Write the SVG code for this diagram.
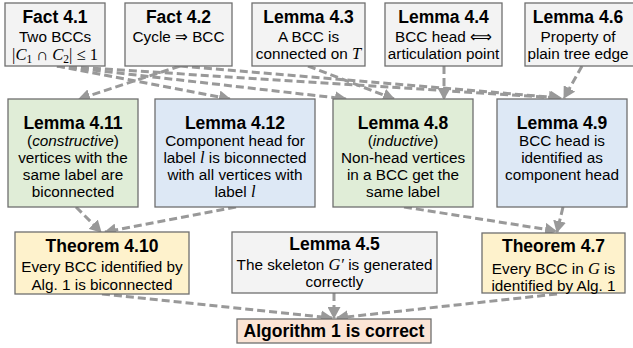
<svg xmlns="http://www.w3.org/2000/svg" width="633" height="348" viewBox="0 0 633 348">
<style>
.box{stroke:#6f6f6f;stroke-width:1.3}
.g{fill:#f3f3f3}
.gr{fill:#e0edd7}
.bl{fill:#dde8f5}
.ye{fill:#fef2cc}
.pe{fill:#fbe4d5}
text{font-family:"Liberation Sans",Arial,"DejaVu Sans",sans-serif;fill:#000;text-anchor:middle}
.t{font-weight:bold;font-size:17.5px}
.b{font-size:15.3px}
.m{font-family:"Liberation Serif","DejaVu Serif",serif;font-style:italic;font-size:16.5px}
.mu{font-family:"Liberation Serif","DejaVu Serif",serif;font-size:16.5px}
.sub{font-family:"Liberation Serif","DejaVu Serif",serif;font-size:11.5px}
.e{fill:none;stroke:#999;stroke-width:3;stroke-dasharray:8 4;marker-end:url(#ah)}
</style>
<defs>
<marker id="ah" markerUnits="userSpaceOnUse" markerWidth="13" markerHeight="13" refX="11" refY="6.5" orient="auto">
<path d="M0,0 L12,6.5 L0,13 z" fill="#999"/>
</marker>
</defs>

<g id="edges">
<path class="e" d="M57,66 L230,99"/>
<path class="e" d="M57,66 L346,99"/>
<path class="e" d="M57,66 L560,98"/>
<path class="e" d="M180,66 L79,99"/>
<path class="e" d="M180,66 L561,98"/>
<path class="e" d="M308,66 L394,99"/>
<path class="e" d="M444,66 L444,99"/>
<path class="e" d="M582,66 L564,98"/>
<path class="e" d="M76,207 L101,232"/>
<path class="e" d="M236,207 L105,232"/>
<path class="e" d="M404,207 L556,231"/>
<path class="e" d="M563,207 L557,232"/>
<path class="e" d="M102,294 L332,318"/>
<path class="e" d="M334,293 L334,318"/>
<path class="e" d="M557,294 L337,318"/>
</g>

<g id="fact41">
<rect class="box g" x="5" y="3" width="100" height="63"/>
<text class="t" x="55" y="22.5">Fact 4.1</text>
<text class="b" x="55" y="41.5">Two BCCs</text>
<text x="55" y="59.5"><tspan class="mu">|</tspan><tspan class="m">C</tspan><tspan class="sub" dy="3">1</tspan><tspan class="mu" dy="-3"> ∩ </tspan><tspan class="m">C</tspan><tspan class="sub" dy="3">2</tspan><tspan class="mu" dy="-3">| ≤ 1</tspan></text>
</g>

<g id="fact42">
<rect class="box g" x="125" y="3" width="107" height="63"/>
<text class="t" x="178.5" y="22.5">Fact 4.2</text>
<text class="b" x="178.5" y="41.5">Cycle ⇒ BCC</text>
</g>

<g id="lemma43">
<rect class="box g" x="252" y="3" width="113" height="63"/>
<text class="t" x="308.5" y="22.5">Lemma 4.3</text>
<text class="b" x="308.5" y="41.5">A BCC is</text>
<text class="b" x="308.5" y="58.5">connected on <tspan class="m">T</tspan></text>
</g>

<g id="lemma44">
<rect class="box g" x="385" y="3" width="117" height="63"/>
<text class="t" x="443.5" y="22.5">Lemma 4.4</text>
<text class="b" x="443.5" y="41.5">BCC head <tspan font-family="DejaVu Sans">⟺</tspan></text>
<text class="b" x="443.5" y="58.5">articulation point</text>
</g>

<g id="lemma46">
<rect class="box g" x="525" y="3" width="115" height="63"/>
<text class="t" x="578" y="22.5">Lemma 4.6</text>
<text class="b" x="578" y="41.5">Property of</text>
<text class="b" x="578" y="58.5">plain tree edge</text>
</g>

<g id="lemma411">
<rect class="box gr" x="8" y="99" width="130" height="108"/>
<text class="t" x="73" y="129">Lemma 4.11</text>
<text class="b" x="73" y="145.5">(<tspan font-style="italic">constructive</tspan>)</text>
<text class="b" x="73" y="162.5">vertices with the</text>
<text class="b" x="73" y="179.5">same label are</text>
<text class="b" x="73" y="197">biconnected</text>
</g>

<g id="lemma412">
<rect class="box bl" x="155" y="99" width="160" height="108"/>
<text class="t" x="235" y="129">Lemma 4.12</text>
<text class="b" x="235" y="145.5">Component head for</text>
<text class="b" x="235" y="162.5">label <tspan class="m">l</tspan> is biconnected</text>
<text class="b" x="235" y="179.5">with all vertices with</text>
<text class="b" x="235" y="197">label <tspan class="m">l</tspan></text>
</g>

<g id="lemma48">
<rect class="box gr" x="333" y="99" width="140" height="108"/>
<text class="t" x="403" y="129">Lemma 4.8</text>
<text class="b" x="403" y="145.5">(<tspan font-style="italic">inductive</tspan>)</text>
<text class="b" x="403" y="162.5">Non-head vertices</text>
<text class="b" x="403" y="179.5">in a BCC get the</text>
<text class="b" x="403" y="197">same label</text>
</g>

<g id="lemma49">
<rect class="box bl" x="497" y="99" width="130" height="108"/>
<text class="t" x="562" y="129">Lemma 4.9</text>
<text class="b" x="562" y="145.5">BCC head is</text>
<text class="b" x="562" y="162.5">identified as</text>
<text class="b" x="562" y="179.5">component head</text>
</g>

<g id="theorem410">
<rect class="box ye" x="15" y="232" width="174" height="62"/>
<text class="t" x="102" y="251.5">Theorem 4.10</text>
<text class="b" x="102" y="271.5">Every BCC identified by</text>
<text class="b" x="102" y="289.5">Alg. 1 is biconnected</text>
</g>

<g id="lemma45">
<rect class="box g" x="232" y="232" width="205" height="61"/>
<text class="t" x="334.5" y="250">Lemma 4.5</text>
<text class="b" x="334.5" y="270">The skeleton <tspan class="m">G′</tspan> is generated</text>
<text class="b" x="334.5" y="286.5">correctly</text>
</g>

<g id="theorem47">
<rect class="box ye" x="482" y="233" width="143" height="60"/>
<text class="t" x="553.5" y="252">Theorem 4.7</text>
<text class="b" x="553.5" y="273.5">Every BCC in <tspan class="m">G</tspan> is</text>
<text class="b" x="553.5" y="290.5">identified by Alg. 1</text>
</g>

<g id="algorithm">
<rect class="box pe" x="237" y="319" width="194" height="24"/>
<text class="t" x="334" y="337">Algorithm 1 is correct</text>
</g>
</svg>
